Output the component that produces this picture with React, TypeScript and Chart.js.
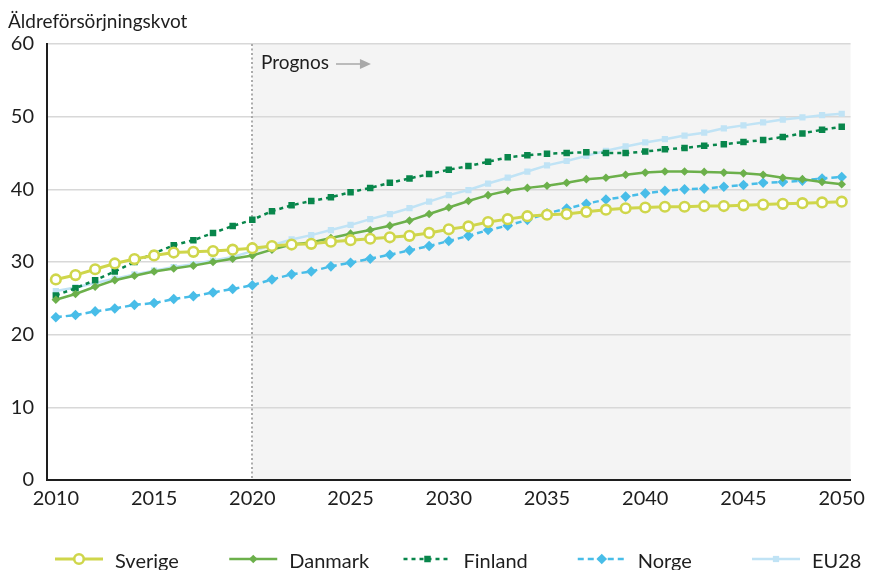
import React, { useEffect, useRef } from 'react';
import { Chart, registerables } from 'chart.js';
import { drawPoint } from 'chart.js/helpers';

Chart.register(...registerables);

// Years on the horizontal axis
const years = [
  2010, 2011, 2012, 2013, 2014, 2015, 2016, 2017, 2018, 2019,
  2020, 2021, 2022, 2023, 2024, 2025, 2026, 2027, 2028, 2029,
  2030, 2031, 2032, 2033, 2034, 2035, 2036, 2037, 2038, 2039,
  2040, 2041, 2042, 2043, 2044, 2045, 2046, 2047, 2048, 2049, 2050,
];

const xTickValues = [2010, 2015, 2020, 2025, 2030, 2035, 2040, 2045, 2050];
const yMin = 0;
const yMax = 60;
const yStep = 10;

const chartTitle = 'Äldreförsörjningskvot';
const forecastStart = 2020;
const forecastLabel = 'Prognos';

const seriesNames = ['Sverige', 'Danmark', 'Finland', 'Norge', 'EU28'];

const sverige = [
  27.6, 28.2, 29.0, 29.8, 30.4, 30.9, 31.3, 31.4, 31.5, 31.7,
  31.9, 32.2, 32.4, 32.5, 32.8, 33.0, 33.2, 33.4, 33.6, 34.0,
  34.5, 34.9, 35.5, 35.9, 36.3, 36.5, 36.6, 36.9, 37.2, 37.4,
  37.5, 37.6, 37.6, 37.7, 37.7, 37.8, 37.9, 38.0, 38.1, 38.2, 38.3,
];

const danmark = [
  24.8, 25.6, 26.6, 27.5, 28.1, 28.7, 29.1, 29.5, 30.0, 30.45,
  30.9, 31.7, 32.4, 32.7, 33.3, 33.9, 34.4, 35.0, 35.7, 36.6,
  37.5, 38.4, 39.2, 39.8, 40.2, 40.5, 40.9, 41.4, 41.6, 42.0,
  42.3, 42.45, 42.45, 42.4, 42.3, 42.2, 42.0, 41.6, 41.4, 41.0, 40.7,
];

const finland = [
  25.4, 26.4, 27.5, 28.7, 30.0, 31.2, 32.3, 33.0, 34.0, 34.95,
  35.8, 37.0, 37.8, 38.4, 38.9, 39.6, 40.2, 40.9, 41.5, 42.1,
  42.7, 43.2, 43.8, 44.4, 44.7, 44.9, 45.0, 45.1, 45.0, 45.0,
  45.2, 45.5, 45.7, 46.0, 46.2, 46.5, 46.8, 47.2, 47.7, 48.2, 48.6,
];

const norge = [
  22.4, 22.7, 23.2, 23.6, 24.1, 24.35, 24.9, 25.3, 25.8, 26.3,
  26.8, 27.6, 28.3, 28.7, 29.4, 29.9, 30.45, 31.0, 31.6, 32.2,
  32.9, 33.6, 34.4, 35.0, 35.8, 36.7, 37.35, 38.0, 38.6, 39.0,
  39.45, 39.8, 40.0, 40.1, 40.35, 40.6, 40.9, 41.0, 41.2, 41.5, 41.7,
];

const eu28 = [
  26.0, 26.5, 27.1, 27.7, 28.3, 28.8, 29.3, 29.7, 30.2, 30.7,
  31.5, 32.3, 33.1, 33.7, 34.4, 35.1, 35.9, 36.6, 37.4, 38.3,
  39.2, 39.9, 40.8, 41.6, 42.45, 43.3, 43.9, 44.6, 45.3, 45.9,
  46.45, 46.9, 47.4, 47.8, 48.4, 48.8, 49.2, 49.6, 49.9, 50.2, 50.4,
];

const FONT = 'Lato, "Open Sans", "DejaVu Sans", sans-serif';
const TEXT = '#1e1e1e';

// Background shading for the forecast period, title, forecast marker and legend
const decorations = {
  id: 'decorations',
  beforeDraw(chart: any) {
    const { ctx, chartArea: a, scales } = chart;
    const xs = scales.x.getPixelForValue(forecastStart);
    ctx.save();
    ctx.fillStyle = '#f4f4f4';
    ctx.fillRect(xs, a.top, a.right - xs, a.bottom - a.top);
    ctx.fillStyle = TEXT;
    ctx.font = `19px ${FONT}`;
    ctx.textAlign = 'left';
    ctx.textBaseline = 'alphabetic';
    ctx.fillText(chartTitle, 8, 28);
    ctx.restore();
  },
  beforeDatasetsDraw(chart: any) {
    const { ctx, chartArea: a, scales } = chart;
    const xs = Math.round(scales.x.getPixelForValue(forecastStart));
    ctx.save();
    ctx.strokeStyle = '#ababab';
    ctx.lineWidth = 2;
    ctx.setLineDash([2, 2.5]);
    ctx.beginPath();
    ctx.moveTo(xs, a.top);
    ctx.lineTo(xs, a.bottom);
    ctx.stroke();
    ctx.setLineDash([]);

    // "Prognos" label with arrow
    ctx.fillStyle = TEXT;
    ctx.font = `19px ${FONT}`;
    ctx.textAlign = 'left';
    ctx.textBaseline = 'middle';
    const tx = xs + 9;
    const ty = a.top + 19;
    ctx.fillText(forecastLabel, tx, ty);
    const tw = ctx.measureText(forecastLabel).width;
    const ax = tx + tw + 7;
    ctx.strokeStyle = '#a9a9a9';
    ctx.fillStyle = '#a9a9a9';
    ctx.lineWidth = 1.5;
    ctx.beginPath();
    ctx.moveTo(ax, ty + 1);
    ctx.lineTo(ax + 26, ty + 1);
    ctx.stroke();
    ctx.beginPath();
    ctx.moveTo(ax + 24, ty - 4);
    ctx.lineTo(ax + 35, ty + 1);
    ctx.lineTo(ax + 24, ty + 6);
    ctx.closePath();
    ctx.fill();
    ctx.restore();
  },
  afterDraw(chart: any) {
    const { ctx } = chart;
    const y = 559;
    const start = 55;
    const step = 174.25;
    const lineLen = 48;
    ctx.save();
    chart.data.datasets.forEach((ds: any, i: number) => {
      const x0 = start + i * step;
      ctx.strokeStyle = ds.borderColor;
      ctx.lineWidth = ds.borderWidth;
      ctx.setLineDash(ds.borderDash || []);
      ctx.beginPath();
      ctx.moveTo(x0, y);
      ctx.lineTo(x0 + lineLen, y);
      ctx.stroke();
      ctx.setLineDash([]);
      ctx.fillStyle = ds.pointBackgroundColor;
      ctx.strokeStyle = ds.pointBorderColor;
      ctx.lineWidth = ds.pointBorderWidth;
      drawPoint(
        ctx,
        { pointStyle: ds.pointStyle, radius: ds.pointRadius, rotation: 0, borderWidth: ds.pointBorderWidth },
        x0 + lineLen / 2,
        y,
      );
      ctx.fillStyle = TEXT;
      ctx.font = `20px ${FONT}`;
      ctx.textAlign = 'left';
      ctx.textBaseline = 'middle';
      ctx.fillText(ds.label, x0 + lineLen + 12, y + 3);
    });
    ctx.restore();
  },
};

export default function App() {
  const canvasRef = useRef<HTMLCanvasElement | null>(null);

  useEffect(() => {
    const canvas = canvasRef.current;
    if (!canvas) return;

    const mk = (
      label: string,
      data: number[],
      color: string,
      opts: Record<string, any>,
    ) => ({
      label,
      data,
      borderColor: color,
      backgroundColor: color,
      pointBackgroundColor: color,
      pointBorderColor: color,
      pointBorderWidth: 0,
      borderWidth: 2.5,
      tension: 0,
      fill: false,
      ...opts,
    });

    const chart = new Chart(canvas, {
      type: 'line',
      data: {
        labels: years,
        datasets: [
          mk(seriesNames[0], sverige, '#cfd64b', {
            borderWidth: 3,
            pointStyle: 'circle',
            pointRadius: 4.8,
            pointBorderWidth: 2.6,
            pointBackgroundColor: '#ffffff',
          }),
          mk(seriesNames[1], danmark, '#6cb04b', {
            pointStyle: 'rectRot',
            pointRadius: 4.3,
          }),
          mk(seriesNames[2], finland, '#08864b', {
            borderDash: [4, 4],
            pointStyle: 'rect',
            pointRadius: 4.6,
          }),
          mk(seriesNames[3], norge, '#48bde8', {
            borderDash: [6, 4],
            pointStyle: 'rectRot',
            pointRadius: 5.3,
          }),
          mk(seriesNames[4], eu28, '#c0e3f5', {
            pointStyle: 'rect',
            pointRadius: 4.4,
          }),
        ],
      },
      options: {
        responsive: false,
        animation: false,
        events: [],
        layout: { padding: { top: 44, left: 0, right: 6, bottom: 52 } },
        plugins: {
          legend: { display: false },
          tooltip: { enabled: false },
          title: { display: false },
        },
        scales: {
          x: {
            type: 'linear',
            min: 2009.55,
            max: 2050.45,
            afterBuildTicks: (scale: any) => {
              scale.ticks = xTickValues.map((v) => ({ value: v }));
            },
            grid: { display: false, drawTicks: false },
            border: { display: true, color: TEXT, width: 2 },
            ticks: {
              padding: 7,
              color: TEXT,
              font: { family: FONT, size: 20 },
              maxRotation: 0,
              autoSkip: false,
              callback: (v: any) => String(v),
            },
          },
          y: {
            min: yMin,
            max: yMax,
            afterFit: (scale: any) => {
              scale.width = 47;
            },
            grid: { color: '#d8d8d8', lineWidth: 1.5, drawTicks: false },
            border: { display: true, color: TEXT, width: 2 },
            ticks: {
              stepSize: yStep,
              padding: 13,
              color: TEXT,
              font: { family: FONT, size: 20 },
            },
          },
        },
      },
      plugins: [decorations],
    });

    return () => chart.destroy();
  }, []);

  return (
    <div style={{ position: 'fixed', left: 0, top: 0, width: 872, height: 570, background: '#fff' }}>
      <canvas ref={canvasRef} width={872} height={570} style={{ display: 'block' }} />
    </div>
  );
}
